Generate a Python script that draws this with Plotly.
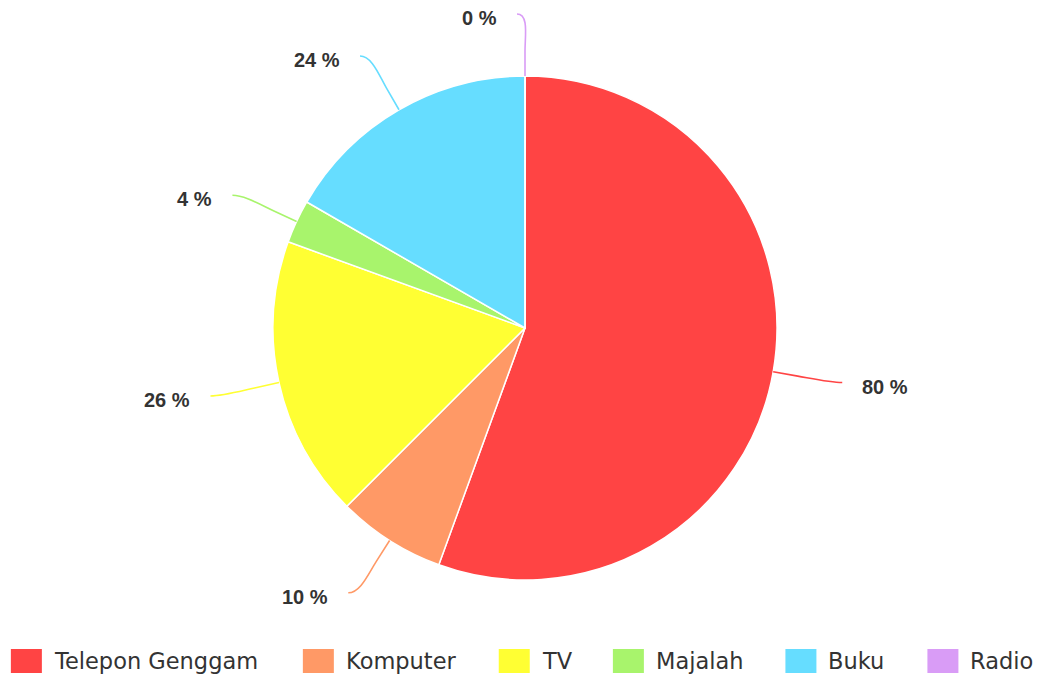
import math
import plotly.graph_objects as go

# ---- data ----
categories = ["Telepon Genggam", "Komputer", "TV", "Majalah", "Buku", "Radio"]
values = [80, 10, 26, 4, 24, 0]
colors = ["#FF4444", "#FF9966", "#FFFF33", "#A8F46C", "#66DDFF", "#D99CF6"]

# ---- layout constants ----
W, H = 1045, 681
CX, CY, R = 525, 328, 252
LABEL_FONT = dict(family="Liberation Sans, Arial, sans-serif", size=20, color="#333333")
LEGEND_FONT = dict(family="DejaVu Sans, sans-serif", size=22.5, color="#333333")


def px(x):
    return x / W


def py(y):
    return 1 - y / H


fig = go.Figure()
fig.add_trace(go.Pie(
    labels=categories,
    values=values,
    marker=dict(colors=colors, line=dict(color="white", width=1.5)),
    sort=False,
    direction="clockwise",
    rotation=0,
    textinfo="none",
    showlegend=False,
    domain=dict(x=[px(CX - R), px(CX + R)], y=[py(CY + R), py(CY - R)]),
))

# ---- leader lines & outside labels, computed from the values ----
shapes = []
annotations = []
total = sum(values)
cum = 0.0
for cat, v, col in zip(categories, values, colors):
    mid = (cum + v / 2) / total * 2 * math.pi
    cum += v
    dx, dy = math.sin(mid), -math.cos(mid)
    side = 1 if dx > 1e-6 else -1
    p0 = (CX + R * dx, CY + R * dy)
    p1 = (CX + (R + 25) * dx, CY + (R + 25) * dy)
    p3 = (CX + (R + 62) * dx + side * 8, CY + (R + 62) * dy)
    c1 = (p1[0] + 15 * dx, p1[1] + 15 * dy)
    c2 = (p3[0] - side * 12, p3[1])
    path = "M {} {} L {} {} C {} {}, {} {}, {} {}".format(
        px(p0[0]), py(p0[1]), px(p1[0]), py(p1[1]),
        px(c1[0]), py(c1[1]), px(c2[0]), py(c2[1]), px(p3[0]), py(p3[1]))
    shapes.append(dict(type="path", path=path, xref="paper", yref="paper",
                       line=dict(color=col, width=1.6), layer="above"))
    annotations.append(dict(
        text="<b>{} %</b>".format(v), x=px(p3[0] + side * 18), y=py(p3[1] + 4),
        xref="paper", yref="paper", xanchor="left" if side > 0 else "right",
        yanchor="middle", showarrow=False, font=LABEL_FONT))

# ---- custom legend (large swatches) ----
DV = {"T": 1251, "e": 1260, "l": 569, "p": 1300, "o": 1253, "n": 1298, " ": 651,
      "G": 1590, "g": 1300, "a": 1255, "m": 1995, "K": 1343, "u": 1298, "t": 803,
      "r": 842, "V": 1401, "M": 1767, "j": 569, "h": 1298, "B": 1405, "k": 1186,
      "R": 1423, "d": 1300, "i": 569}


def text_w(s, size):
    return sum(DV.get(ch, 1250) for ch in s) / 2048 * size


SW_W, SW_H, SW_GAP, ITEM_GAP, LEG_Y = 31, 24, 12, 42, 661
widths = [text_w(c, LEGEND_FONT["size"]) for c in categories]
total_w = sum(SW_W + SW_GAP + w for w in widths) + ITEM_GAP * (len(categories) - 1)
x = (W - total_w) / 2
for cat, col, w in zip(categories, colors, widths):
    shapes.append(dict(type="rect", xref="paper", yref="paper",
                       x0=px(x), x1=px(x + SW_W), y0=py(LEG_Y + SW_H / 2), y1=py(LEG_Y - SW_H / 2),
                       fillcolor=col, line=dict(width=0)))
    annotations.append(dict(text=cat, x=px(x + SW_W + SW_GAP - 2), y=py(LEG_Y),
                            xref="paper", yref="paper", xanchor="left", yanchor="middle",
                            showarrow=False, font=LEGEND_FONT))
    x += SW_W + SW_GAP + w + ITEM_GAP

fig.update_layout(
    width=W, height=H,
    margin=dict(l=0, r=0, t=0, b=0),
    paper_bgcolor="white", plot_bgcolor="white",
    shapes=shapes, annotations=annotations,
    showlegend=False,
)

fig.write_html("out.html", config={"displayModeBar": False},
               post_script="document.body.style.margin='0';document.body.style.overflow='hidden';")
